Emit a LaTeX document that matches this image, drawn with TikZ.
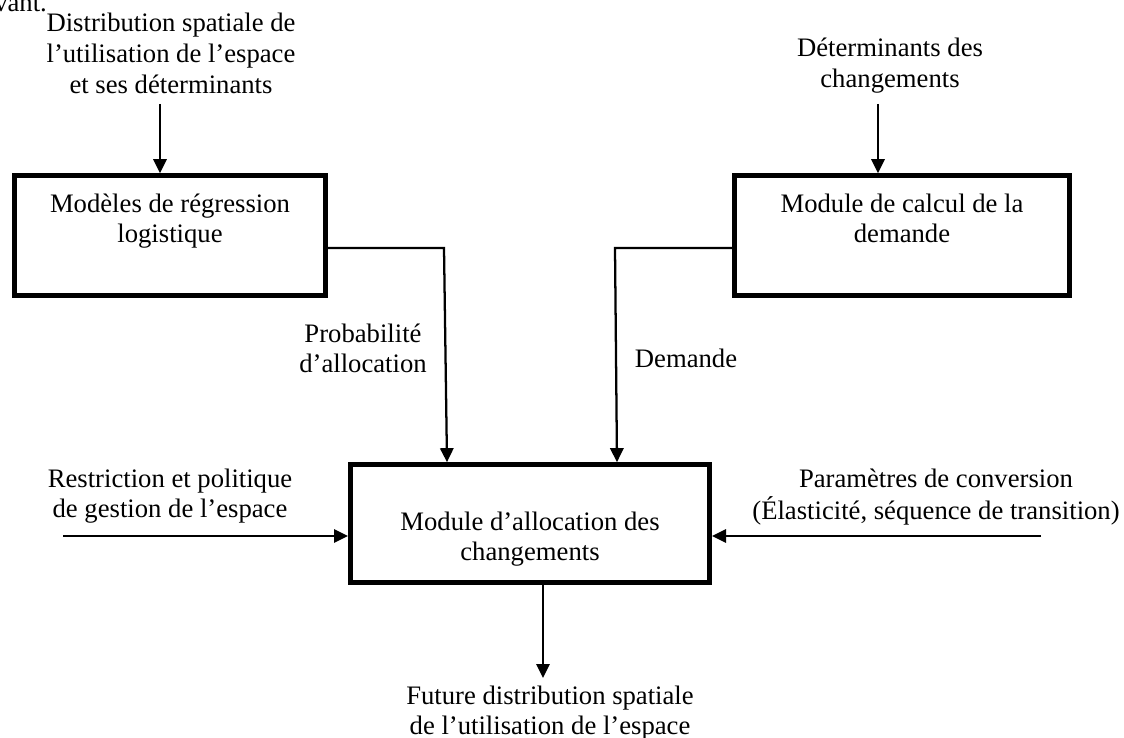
\documentclass[tikz,border=0pt]{standalone}
\usepackage{fontspec}
\setmainfont{Liberation Serif}
\usetikzlibrary{arrows.meta}
\newcommand{\mylines}[1]{\begin{tabular}[t]{@{}c@{}}#1\end{tabular}}
\begin{document}
\begin{tikzpicture}[x=0.75pt,y=-0.75pt,
  txt/.style={font=\fontsize{20}{22.9}\selectfont, inner sep=0pt, anchor=base},
  boxnode/.style={draw, line width=3.5pt, inner sep=0pt, fill=none},
  arr/.style={line width=1.7pt, -{Triangle[width=10pt,length=10.5pt]}},
  ln/.style={line width=1.7pt}]
\useasboundingbox (0,0) rectangle (1124,738);
\fill[white] (0,0) rectangle (1124,738);

% texts
\node[txt, anchor=base west] (v) at (-6,12) {vant.};
\node[txt] (t1) at (171,32) {\mylines{Distribution spatiale de\\l’utilisation de l’espace\\et ses déterminants}};
\node[txt] (t2) at (890,57) {\mylines{Déterminants des\\changements}};

% boxes
\node[boxnode, minimum width=233.5pt, minimum height=90pt] (m1) at (170,235.5) {};
\node[txt] (m1t) at (170,212) {\mylines{Modèles de régression\\logistique}};
\node[boxnode, minimum width=251.5pt, minimum height=90pt] (m2) at (902,235.5) {};
\node[txt] (m2t) at (902,212) {\mylines{Module de calcul de la\\demande}};
\node[boxnode, minimum width=269.5pt, minimum height=88.5pt] (m3) at (530,523.5) {};
\node[txt] (m3t) at (530,530) {\mylines{Module d’allocation des\\changements}};

% labels
\node[txt] (prob) at (363,342) {\mylines{Probabilité\\d’allocation}};
\node[txt] (dem) at (686,367) {Demande};
\node[txt] (restr) at (170,487) {\mylines{Restriction et politique\\de gestion de l’espace}};
\node[txt] (param) at (936,487) {\mylines{Paramètres de conversion\\(Élasticité, séquence de transition)}};
\node[txt] (fut) at (550,704) {\mylines{Future distribution spatiale\\de l’utilisation de l’espace}};

% coordinates
\coordinate (a1) at (160,104);
\coordinate (a2) at (878,104);
\coordinate (c1) at (444,248);
\coordinate (c1e) at (447,300);
\coordinate (c2) at (615,248);
\coordinate (c2e) at (617,300);
\coordinate (r0) at (63,536);
\coordinate (p0) at (1041,536);
\coordinate (fo) at (543,600);
\coordinate (fe) at (543,678);

% connectors
\draw[arr] (a1) -- (a1 |- m1.north);
\draw[arr] (a2) -- (a2 |- m2.north);
\draw[arr] (m1.east |- c1) -- (c1) -- (c1e |- m3.north);
\draw[arr] (m2.west |- c2) -- (c2) -- (c2e |- m3.north);
\draw[arr] (r0) -- (m3.west |- r0);
\draw[arr] (p0) -- (m3.east |- p0);
\draw[arr] (fo |- m3.south) -- (fe);
\end{tikzpicture}
\end{document}
